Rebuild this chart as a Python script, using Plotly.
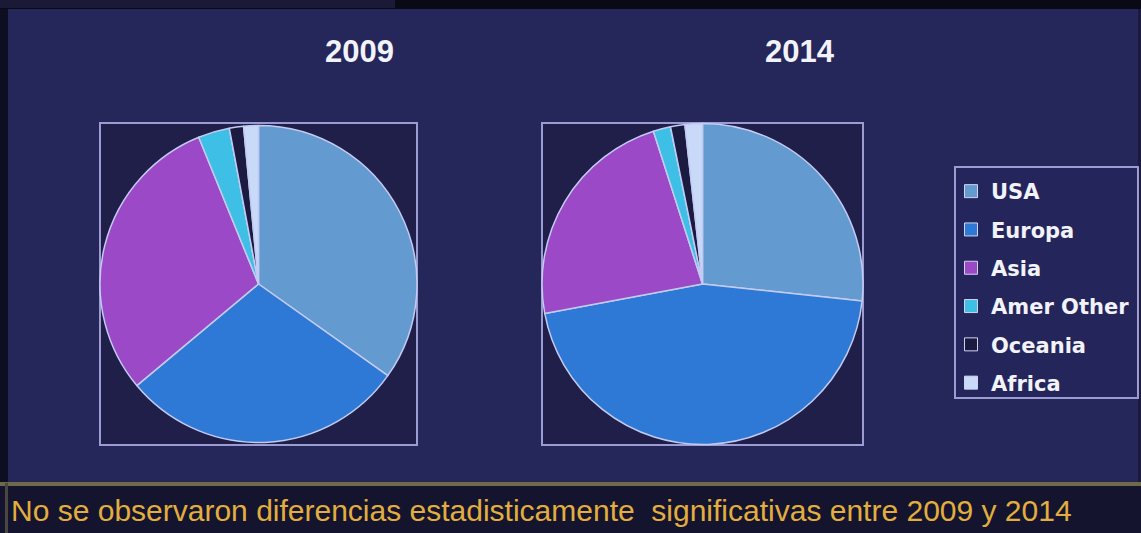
import plotly.graph_objects as go

# ---- data ----
regions = ["USA", "Europa", "Asia", "Amer Other", "Oceania", "Africa"]
share_2009 = [34.8, 29.1, 29.9, 3.2, 1.45, 1.5]
share_2014 = [26.7, 45.4, 23.0, 1.75, 1.45, 1.75]
years = ["2009", "2014"]
note = "No se observaron diferencias estadisticamente  significativas entre 2009 y 2014"

colors = ["#639ad0", "#2e79d6", "#9b49c7", "#3dbfe6", "#1b1b42", "#c9daf8"]

W, H = 1141, 533


def px(x):
    return x / W


def py(y):
    return 1 - y / H


fig = go.Figure()

boxes = [(100, 123, 417, 445), (542, 123, 863, 445)]
for vals, (x0, y0, x1, y1), yr in zip([share_2009, share_2014], boxes, years):
    fig.add_trace(go.Pie(
        labels=regions, values=vals, sort=False, direction="clockwise", rotation=0,
        marker=dict(colors=colors, line=dict(color="#c3cbf2", width=1.5)),
        textinfo="none", showlegend=False, name=yr,
        domain=dict(x=[px(x0), px(x1)], y=[py(y1), py(y0)]),
    ))

# legend entries (one group per region so the gap can be set)
for lab, col in zip(regions, colors):
    fig.add_trace(go.Scatter(
        x=[None], y=[None], mode="markers", name=f"<b>{lab}</b>", legendgroup=lab,
        marker=dict(symbol="square", size=13, color=col,
                    line=dict(color="#d0d4f0", width=1)),
    ))

shapes = []
# top black strip
shapes.append(dict(type="rect", xref="paper", yref="paper", x0=0, x1=1, y0=py(9), y1=1,
                   fillcolor="#0a0a16", line=dict(width=0), layer="below"))
shapes.append(dict(type="rect", xref="paper", yref="paper", x0=0, x1=px(395), y0=py(8), y1=1,
                   fillcolor="#1a1a36", line=dict(width=0), layer="below"))
# left dark edge
shapes.append(dict(type="rect", xref="paper", yref="paper", x0=0, x1=px(8), y0=py(483), y1=py(9),
                   fillcolor="#0e0e22", line=dict(width=0), layer="below"))
# right dark edge
shapes.append(dict(type="rect", xref="paper", yref="paper", x0=px(1138), x1=1, y0=py(483), y1=py(9),
                   fillcolor="#1a1a3c", line=dict(width=0), layer="below"))
# bottom band
shapes.append(dict(type="rect", xref="paper", yref="paper", x0=0, x1=1, y0=0, y1=py(483),
                   fillcolor="#14142e", line=dict(width=0), layer="below"))
shapes.append(dict(type="rect", xref="paper", yref="paper", x0=0, x1=1, y0=py(486), y1=py(482),
                   fillcolor="#6f6a4a", line=dict(width=0), layer="below"))
shapes.append(dict(type="rect", xref="paper", yref="paper", x0=px(5), x1=px(8), y0=0, y1=py(483),
                   fillcolor="#4a4640", line=dict(width=0), layer="below"))
# pie frames
for (x0, y0, x1, y1) in boxes:
    shapes.append(dict(type="rect", xref="paper", yref="paper", x0=px(x0), x1=px(x1),
                       y0=py(y1), y1=py(y0), fillcolor="#1f1f4a",
                       line=dict(color="#9c9cd2", width=2), layer="below"))
# legend frame
shapes.append(dict(type="rect", xref="paper", yref="paper", x0=px(955), x1=px(1138),
                   y0=py(398), y1=py(167), fillcolor="#24255a",
                   line=dict(color="#9c9cd2", width=2), layer="below"))

annotations = []
for yr, cx in zip(years, [359, 800]):
    annotations.append(dict(text=f"<b>{yr}</b>", x=px(cx), y=py(52), xref="paper", yref="paper",
                            showarrow=False, xanchor="center", yanchor="middle",
                            font=dict(family="Liberation Sans, Arial", size=31, color="#f2f2fa")))
annotations.append(dict(text=note, x=px(9), y=py(510), xref="paper", yref="paper",
                        showarrow=False, xanchor="left", yanchor="middle",
                        font=dict(family="Liberation Sans, Arial", size=30, color="#e2ae3e")))

fig.update_layout(
    width=W, height=H,
    margin=dict(l=0, r=0, t=0, b=0),
    paper_bgcolor="#25265a", plot_bgcolor="rgba(0,0,0,0)",
    xaxis=dict(visible=False), yaxis=dict(visible=False),
    shapes=shapes, annotations=annotations,
    legend=dict(x=px(951), y=py(171), xanchor="left", yanchor="top",
                bgcolor="rgba(0,0,0,0)", borderwidth=0, traceorder="grouped",
                tracegroupgap=8,
                font=dict(family="DejaVu Sans", size=21, color="#f2f2fa")),
)

fig.write_html("out.html")
